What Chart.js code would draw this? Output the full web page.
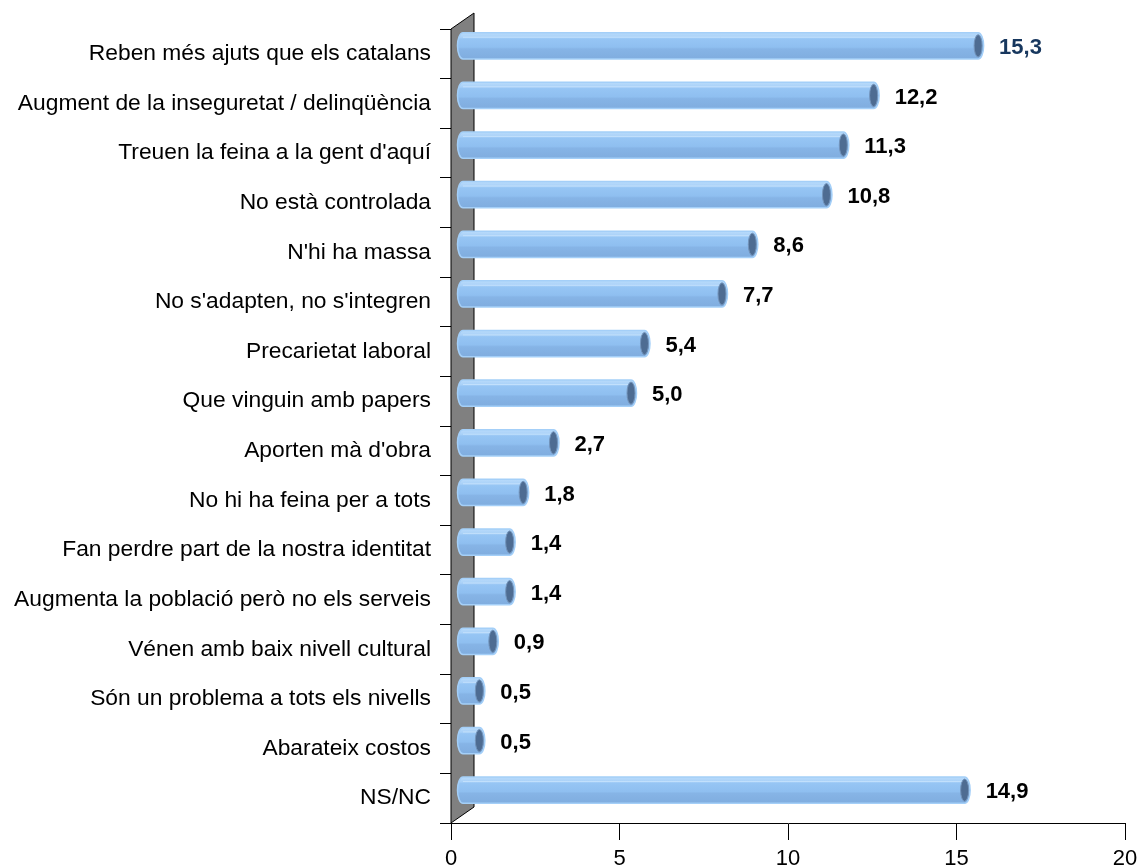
<!DOCTYPE html>
<html>
<head>
<meta charset="utf-8">
<script src="https://cdn.jsdelivr.net/npm/chart.js@4"></script>
<style>
  body { margin: 0; background: #fff; }
  canvas { display: block; }
</style>
</head>
<body>
<canvas id="motius" width="1137" height="867"></canvas>
<script>
// motius (% de respostes)
const categories = [
  "Reben més ajuts que els catalans",
  "Augment de la inseguretat / delinqüència",
  "Treuen la feina a la gent d'aquí",
  "No està controlada",
  "N'hi ha massa",
  "No s'adapten, no s'integren",
  "Precarietat laboral",
  "Que vinguin amb papers",
  "Aporten mà d'obra",
  "No hi ha feina per a tots",
  "Fan perdre part de la nostra identitat",
  "Augmenta la població però no els serveis",
  "Vénen amb baix nivell cultural",
  "Són un problema a tots els nivells",
  "Abarateix costos",
  "NS/NC"
]
const values = [15.3, 12.2, 11.3, 10.8, 8.6, 7.7, 5.4, 5.0, 2.7, 1.8, 1.4, 1.4, 0.9, 0.5, 0.5, 14.9]
const xTicks = [0, 5, 10, 15, 20]

const FONT = '"Liberation Sans", Arial, sans-serif'
const DEPTH_X = 23, DEPTH_Y = 16   // fake 3d depth of the wall

// grey back wall on the left side
const wallPlugin = {
  id: 'wall',
  beforeDatasetsDraw(chart) {
    const { ctx, chartArea } = chart
    const l = chartArea.left, t = chartArea.top, b = chartArea.bottom
    ctx.save()
    ctx.beginPath()
    ctx.moveTo(l, t)
    ctx.lineTo(l + DEPTH_X, t - DEPTH_Y)
    ctx.lineTo(l + DEPTH_X, b - DEPTH_Y)
    ctx.lineTo(l, b)
    ctx.closePath()
    ctx.fillStyle = '#808080'
    ctx.fill()
    ctx.strokeStyle = '#000'
    ctx.lineWidth = 1
    ctx.stroke()
    ctx.restore()
  }
}

// cylinder bars + value labels, placed at half the depth
const cylinderPlugin = {
  id: 'cylinders',
  afterDatasetsDraw(chart) {
    const { ctx } = chart
    const meta = chart.getDatasetMeta(0)
    const dx = DEPTH_X / 2, dy = -DEPTH_Y / 2
    ctx.save()
    meta.data.forEach((el, i) => {
      const p = el.getProps(['x', 'y', 'base', 'height'], true)
      const x0 = p.base + dx, x1 = p.x + dx
      const cy = p.y + dy
      const ry = p.height / 2, rx = 5.5
      const top = cy - ry, bot = cy + ry

      const g = ctx.createLinearGradient(0, top, 0, bot)
      g.addColorStop(0, '#b9dbfb')
      g.addColorStop(0.18, '#a9d1f8')
      g.addColorStop(0.24, '#96c5f4')
      g.addColorStop(0.55, '#8fbff0')
      g.addColorStop(0.62, '#86b4e6')
      g.addColorStop(1, '#80addf')

      ctx.beginPath()
      ctx.moveTo(x0, top)
      ctx.lineTo(x1, top)
      ctx.ellipse(x1, cy, rx, ry, 0, -Math.PI / 2, Math.PI / 2)
      ctx.lineTo(x0, bot)
      ctx.ellipse(x0, cy, rx, ry, 0, Math.PI / 2, Math.PI * 1.5)
      ctx.closePath()
      ctx.fillStyle = g
      ctx.fill()
      ctx.strokeStyle = '#a4cff8'
      ctx.lineWidth = 1.5
      ctx.stroke()

      // thin highlight near the top
      ctx.beginPath()
      ctx.moveTo(x0, top + 4.5)
      ctx.lineTo(x1, top + 4.5)
      ctx.strokeStyle = 'rgba(200,228,252,0.8)'
      ctx.lineWidth = 1
      ctx.stroke()

      // dark end face
      ctx.beginPath()
      ctx.ellipse(x1, cy, rx - 1.5, ry - 2, 0, 0, Math.PI * 2)
      ctx.fillStyle = '#4e6c92'
      ctx.fill()
      ctx.strokeStyle = '#7394bb'
      ctx.lineWidth = 1
      ctx.stroke()

      // value
      ctx.font = 'bold 22px ' + FONT
      ctx.textAlign = 'left'
      ctx.textBaseline = 'middle'
      ctx.fillStyle = i === 0 ? '#17375e' : '#000'
      ctx.fillText(values[i].toFixed(1).replace('.', ','), x1 + 21, cy + 2)
    })
    ctx.restore()
  }
}

new Chart(document.getElementById('motius'), {
  type: 'bar',
  data: {
    labels: categories,
    datasets: [{
      data: values,
      backgroundColor: 'rgba(0,0,0,0)',
      borderWidth: 0,
      categoryPercentage: 1,
      barPercentage: 0.53
    }]
  },
  options: {
    indexAxis: 'y',
    responsive: false,
    animation: false,
    layout: { padding: { top: 29, right: 12, left: 0, bottom: 0 } },
    plugins: { legend: { display: false }, tooltip: { enabled: false } },
    scales: {
      x: {
        min: 0,
        max: 20,
        afterFit(scale) {
          scale.height = 44
          scale.paddingLeft = 0
          scale.paddingRight = 0
        },
        afterBuildTicks(scale) { scale.ticks = xTicks.map(v => ({ value: v })) },
        grid: { drawOnChartArea: false, color: '#000', tickLength: 17, lineWidth: 1 },
        border: { display: true, color: '#000', width: 1 },
        ticks: { color: '#000', font: { family: FONT, size: 22 }, padding: 6, maxRotation: 0 }
      },
      y: {
        afterFit(scale) { scale.width = 451 },
        grid: { drawOnChartArea: false, color: '#000', tickLength: 11, offset: true, lineWidth: 1 },
        border: { display: true, color: '#000', width: 1 },
        ticks: { color: '#000', font: { family: FONT, size: 22.8 }, padding: 9, autoSkip: false }
      }
    }
  },
  plugins: [wallPlugin, cylinderPlugin]
})
</script>
</body>
</html>
